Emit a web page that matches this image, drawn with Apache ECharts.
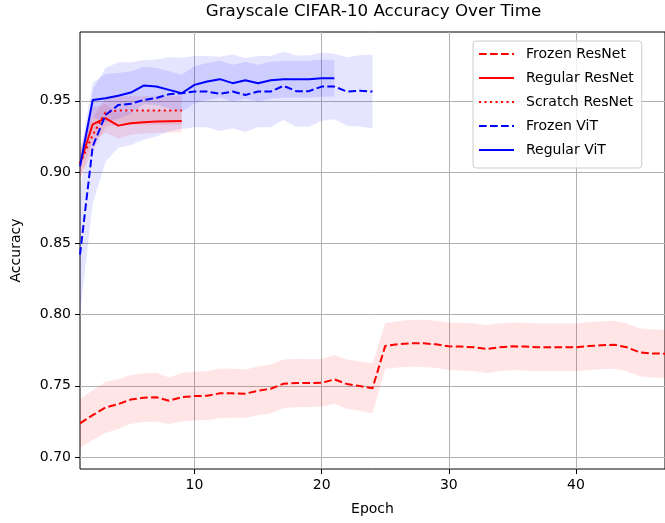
<!DOCTYPE html>
<html>
<head>
<meta charset="utf-8">
<script src="https://cdn.jsdelivr.net/npm/echarts@6/dist/echarts.min.js"></script>
<style>
  html, body { margin: 0; padding: 0; background: #fff; }
  #chart { width: 665px; height: 523px; }
</style>
</head>
<body>
<div id="chart"></div>
<script>
// Mean accuracy per epoch (epoch numbering starts at 1) and the spread around it.
const frozenResnetMean = [
  0.7236, 0.7294, 0.7348, 0.7371, 0.7404, 0.7416, 0.7420, 0.7395, 0.7420, 0.7428,
  0.7430, 0.7447, 0.7447, 0.7445, 0.7465, 0.7479, 0.7514, 0.7519, 0.7519, 0.7521,
  0.7545, 0.7512, 0.7498, 0.7482, 0.7780, 0.7791, 0.7798, 0.7798, 0.7791, 0.7777,
  0.7775, 0.7770, 0.7758, 0.7770, 0.7777, 0.7775, 0.7770, 0.7770, 0.7770, 0.7770,
  0.7779, 0.7784, 0.7788, 0.7770, 0.7735, 0.7727, 0.7725
];
const frozenResnetStd = [
  0.0170, 0.0175, 0.0180, 0.0175, 0.0171, 0.0171, 0.0171, 0.0164, 0.0170, 0.0170,
  0.0172, 0.0175, 0.0172, 0.0170, 0.0171, 0.0171, 0.0171, 0.0170, 0.0168, 0.0167,
  0.0171, 0.0173, 0.0174, 0.0175, 0.0160, 0.0162, 0.0165, 0.0166, 0.0166, 0.0167,
  0.0168, 0.0168, 0.0168, 0.0168, 0.0168, 0.0168, 0.0168, 0.0168, 0.0168, 0.0168,
  0.0168, 0.0168, 0.0168, 0.0168, 0.0168, 0.0168, 0.0168
];

const regularResnetMean = [0.906, 0.9335, 0.9378, 0.9326, 0.9342, 0.9350, 0.9354, 0.9357, 0.9359];
const regularResnetStd  = [0.010, 0.012, 0.010, 0.009, 0.008, 0.008, 0.008, 0.008, 0.008];

const scratchResnetMean = [0.906, 0.926, 0.9418, 0.9432, 0.9432, 0.9432, 0.9432, 0.9432, 0.9432];
const scratchResnetStd  = [0.010, 0.012, 0.010, 0.010, 0.010, 0.010, 0.010, 0.010, 0.010];

const frozenVitMean = [
  0.842, 0.918, 0.940, 0.947, 0.948, 0.9506, 0.952, 0.9546, 0.9553, 0.9565,
  0.9565, 0.9549, 0.9565, 0.9541, 0.9565, 0.9565, 0.9605, 0.9568, 0.9568, 0.9600,
  0.9600, 0.9565, 0.9570, 0.9565
];
const frozenVitStd = [
  0.042, 0.040, 0.033, 0.030, 0.029, 0.028, 0.027, 0.026, 0.025, 0.025,
  0.025, 0.026, 0.026, 0.026, 0.025, 0.025, 0.024, 0.025, 0.025, 0.024,
  0.023, 0.024, 0.025, 0.026
];

const regularVitMean = [
  0.904, 0.9506, 0.9518, 0.9535, 0.9558, 0.9607, 0.9600, 0.9577, 0.9553, 0.9612,
  0.9635, 0.9652, 0.9624, 0.9645, 0.9624, 0.9645, 0.9652, 0.9652, 0.9652, 0.9659,
  0.9659
];
const regularVitStd = [
  0.008, 0.012, 0.017, 0.016, 0.015, 0.013, 0.013, 0.013, 0.013, 0.013,
  0.013, 0.013, 0.013, 0.013, 0.013, 0.013, 0.013, 0.013, 0.013, 0.013,
  0.013
];

const xTicks = [10, 20, 30, 40];
const yTicks = [0.70, 0.75, 0.80, 0.85, 0.90, 0.95];

const RED = '#ff0000';
const BLUE = '#0000ff';
const FONT = 'DejaVu Sans';

const runs = [
  { name: 'Frozen ResNet',  mean: frozenResnetMean,  std: frozenResnetStd,  color: RED,  dash: [7.7, 3.3], band: 'rgba(255,0,0,0.1)' },
  { name: 'Regular ResNet', mean: regularResnetMean, std: regularResnetStd, color: RED,  dash: 'solid',    band: 'rgba(255,0,0,0.1)' },
  { name: 'Scratch ResNet', mean: scratchResnetMean, std: scratchResnetStd, color: RED,  dash: [2.1, 3.4], band: 'rgba(255,0,0,0.1)' },
  { name: 'Frozen ViT',     mean: frozenVitMean,     std: frozenVitStd,     color: BLUE, dash: [7.7, 3.3], band: 'rgba(0,0,255,0.1)' },
  { name: 'Regular ViT',    mean: regularVitMean,    std: regularVitStd,    color: BLUE, dash: 'solid',    band: 'rgba(0,0,255,0.1)' }
];

const series = [];
// Shaded mean ± std bands, each drawn as one polygon through the axis scales.
runs.forEach((r) => {
  const rows = r.mean.map((m, i) => [i + 1, m - r.std[i], m + r.std[i]]);
  series.push({
    type: 'custom',
    silent: true,
    clip: true,
    z: 1,
    encode: { x: 0, y: [1, 2] },
    data: rows,
    renderItem: function (params, api) {
      if (params.dataIndex !== 0) return null;
      const upper = rows.map(d => api.coord([d[0], d[2]]));
      const lower = rows.map(d => api.coord([d[0], d[1]])).reverse();
      return {
        type: 'polygon',
        shape: { points: upper.concat(lower) },
        style: { fill: r.band, stroke: 'none' }
      };
    }
  });
});
// Mean curves.
runs.forEach((r) => {
  series.push({
    name: r.name, type: 'line', symbol: 'none',
    lineStyle: { color: r.color, width: 2, type: r.dash },
    itemStyle: { color: r.color },
    data: r.mean.map((m, i) => [i + 1, m]),
    z: 3
  });
});

const chart = echarts.init(document.getElementById('chart'), null, { renderer: 'canvas' });
chart.setOption({
  animation: false,
  backgroundColor: '#fff',
  title: {
    text: 'Grayscale CIFAR-10 Accuracy Over Time',
    left: 373.5, top: 3, textAlign: 'center', padding: 0,
    textStyle: { fontFamily: FONT, fontSize: 16.7, fontWeight: 'normal', color: '#000' }
  },
  legend: {
    orient: 'vertical', left: 473, top: 41,
    data: runs.map(r => r.name),
    itemWidth: 35, itemHeight: 16, itemGap: 8,
    padding: [5, 8, 10, 5],
    backgroundColor: 'rgba(255,255,255,0.8)',
    borderColor: '#cccccc', borderWidth: 1, borderRadius: 3,
    itemStyle: { opacity: 0 },
    textStyle: { fontFamily: FONT, fontSize: 14, color: '#000', lineHeight: 16, padding: [0, 0, 0, 7] }
  },
  grid: {
    left: 80, top: 32, width: 587, height: 437,
    show: true, borderColor: '#000', borderWidth: 1, backgroundColor: 'transparent'
  },
  xAxis: {
    type: 'value', min: 1, max: 47,
    name: 'Epoch', nameLocation: 'middle', nameGap: 33,
    nameTextStyle: { fontFamily: FONT, fontSize: 14, color: '#000' },
    axisLine: { show: false },
    axisTick: { show: true, customValues: xTicks, length: 5, lineStyle: { color: '#000' } },
    axisLabel: { customValues: xTicks, margin: 9, fontFamily: FONT, fontSize: 14, color: '#000' },
    splitLine: { show: true, lineStyle: { color: '#b0b0b0', width: 1 } }
  },
  yAxis: {
    type: 'value', min: 0.6916, max: 0.9983,
    name: 'Accuracy', nameLocation: 'middle', nameGap: 57, nameRotate: 90,
    nameTextStyle: { fontFamily: FONT, fontSize: 14, color: '#000' },
    axisLine: { show: false },
    axisTick: { show: true, customValues: yTicks, length: 5, lineStyle: { color: '#000' } },
    axisLabel: {
      customValues: yTicks, margin: 9, fontFamily: FONT, fontSize: 14, color: '#000',
      formatter: v => v.toFixed(2)
    },
    splitLine: { show: true, lineStyle: { color: '#b0b0b0', width: 1 } }
  },
  series: series
});
</script>
</body>
</html>
